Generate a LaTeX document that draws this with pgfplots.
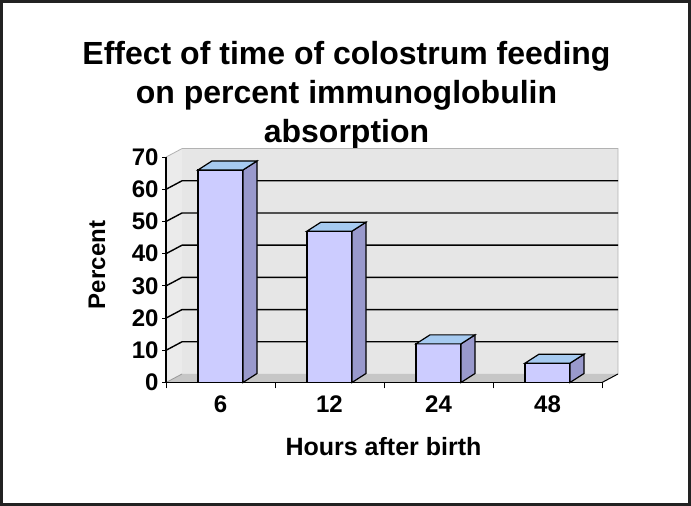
\documentclass[border=0pt]{standalone}
\usepackage{fontspec}
\setmainfont{Liberation Sans}
\usepackage{pgfplots}
\pgfplotsset{compat=1.18}
\usepackage{pgfplotstable}

\definecolor{barfront}{HTML}{CCCCFF}
\definecolor{barside}{HTML}{9999CC}
\definecolor{bartop}{HTML}{A6CAF0}
\definecolor{wallgray}{HTML}{E6E6E6}
\definecolor{sidewall}{HTML}{EBEBEB}
\definecolor{floorgray}{HTML}{C6C6C6}
\definecolor{frameink}{HTML}{222222}

% percent absorption by hours after birth
\pgfplotstableread{
idx hours pct
0   6     66
1   12    47
2   24    12
3   48    6
}\absorption

% side and top faces of a column, drawn from its top-front centre;
% \colpct is the column value, 3.22pt per percent
\pgfdeclareplotmark{columndepth}{%
  \pgfmathsetlengthmacro\barh{\colpct*3.22pt}%
  \pgfpathmoveto{\pgfpoint{22.5pt}{0pt}}%
  \pgfpathlineto{\pgfpoint{36.5pt}{9pt}}%
  \pgfpathlineto{\pgfpoint{36.5pt}{9pt-\barh}}%
  \pgfpathlineto{\pgfpoint{22.5pt}{-\barh}}%
  \pgfpathclose
  \pgfsetfillcolor{barside}%
  \pgfusepath{fill,stroke}%
  \pgfpathmoveto{\pgfpoint{-22.5pt}{0pt}}%
  \pgfpathlineto{\pgfpoint{22.5pt}{0pt}}%
  \pgfpathlineto{\pgfpoint{36.5pt}{9pt}}%
  \pgfpathlineto{\pgfpoint{-8.5pt}{9pt}}%
  \pgfpathclose
  \pgfsetfillcolor{bartop}%
  \pgfusepath{fill,stroke}%
}

\begin{document}
\begin{tikzpicture}[x=1pt,y=1pt]
\useasboundingbox (0,0) rectangle (691,506);
\fill[white] (0,0) rectangle (691,506);
\draw[line width=3pt, frameink] (1.5,1.5) rectangle (689.5,504.5);

% title
\begin{scope}[every node/.style={font=\bfseries\fontsize{32}{38}\selectfont, anchor=base}]
\node at (346.5,441) {Effect of time of colostrum feeding};
\node at (346.5,402) {on percent immunoglobulin};
\node at (346.5,363) {absorption};
\end{scope}

% axis titles
\node[font=\bfseries\fontsize{25}{30}\selectfont, anchor=base] at (383.5,50) {Hours after birth};
\node[font=\bfseries\fontsize{24}{29}\selectfont, rotate=90] at (97,241) {Percent};

\begin{axis}[
  axis on top,
  at={(166pt,123.5pt)}, anchor=south west,
  x=109pt, y=3.22pt,
  xmin=-0.5, xmax=3.5, ymin=0, ymax=70,
  clip=false,
  axis x line*=bottom, axis y line*=left,
  axis line style={black, line width=1.2pt},
  tick align=outside,
  major tick length=4pt, minor tick length=6pt,
  xtick={0,1,2,3}, xticklabels={6,12,24,48},
  minor xtick={-0.5,0.5,1.5,2.5,3.5},
  major x tick style={draw=none},
  minor x tick style={black, line width=1pt},
  ytick={0,10,...,70},
  y tick style={black, line width=1pt},
  /pgf/number format/assume math mode=true,
  tick label style={font=\bfseries\fontsize{24}{28}\selectfont},
  xticklabel style={yshift=-6pt},
  yticklabel style={xshift=0pt},
]
% back wall, left wall and floor of the box
\fill[wallgray] ([shift={(16pt,8.5pt)}]axis cs:-0.5,0) rectangle ([shift={(16pt,8.5pt)}]axis cs:3.5,70);
\fill[sidewall] (axis cs:-0.5,0) -- ([shift={(16pt,8.5pt)}]axis cs:-0.5,0)
      -- ([shift={(16pt,8.5pt)}]axis cs:-0.5,70) -- (axis cs:-0.5,70) -- cycle;
\fill[floorgray] (axis cs:-0.5,0) -- (axis cs:3.5,0)
      -- ([shift={(16pt,8.5pt)}]axis cs:3.5,0) -- ([shift={(16pt,8.5pt)}]axis cs:-0.5,0) -- cycle;
\draw[black!30, line width=0.8pt] (axis cs:-0.5,70) -- ([shift={(16pt,8.5pt)}]axis cs:-0.5,70)
      -- ([shift={(16pt,8.5pt)}]axis cs:3.5,70) -- ([shift={(16pt,8.5pt)}]axis cs:3.5,0);
\draw[black!40, line width=0.8pt] (axis cs:-0.5,0) -- ([shift={(16pt,8.5pt)}]axis cs:-0.5,0);
% gridlines across the left wall and back wall
\pgfplotsinvokeforeach{10,20,30,40,50,60}{
  \draw[black, line width=1.4pt] (axis cs:-0.5,#1) -- ([shift={(16pt,8.5pt)}]axis cs:-0.5,#1)
        -- ([shift={(16pt,8.5pt)}]axis cs:3.5,#1);
}
\draw[black, line width=1pt] (axis cs:3.5,0) -- ([shift={(16pt,8.5pt)}]axis cs:3.5,0);

% front faces of the columns
\addplot[ybar, bar width=45pt, bar shift=0pt, fill=barfront, draw=black, line width=1.2pt]
  table[x=idx, y=pct] {\absorption};
% side and top faces
\addplot[only marks, mark=columndepth, mark options={draw=black, line width=1.2pt},
  visualization depends on={rawy \as \colpct}]
  table[x=idx, y=pct] {\absorption};
\end{axis}
\end{tikzpicture}
\end{document}
